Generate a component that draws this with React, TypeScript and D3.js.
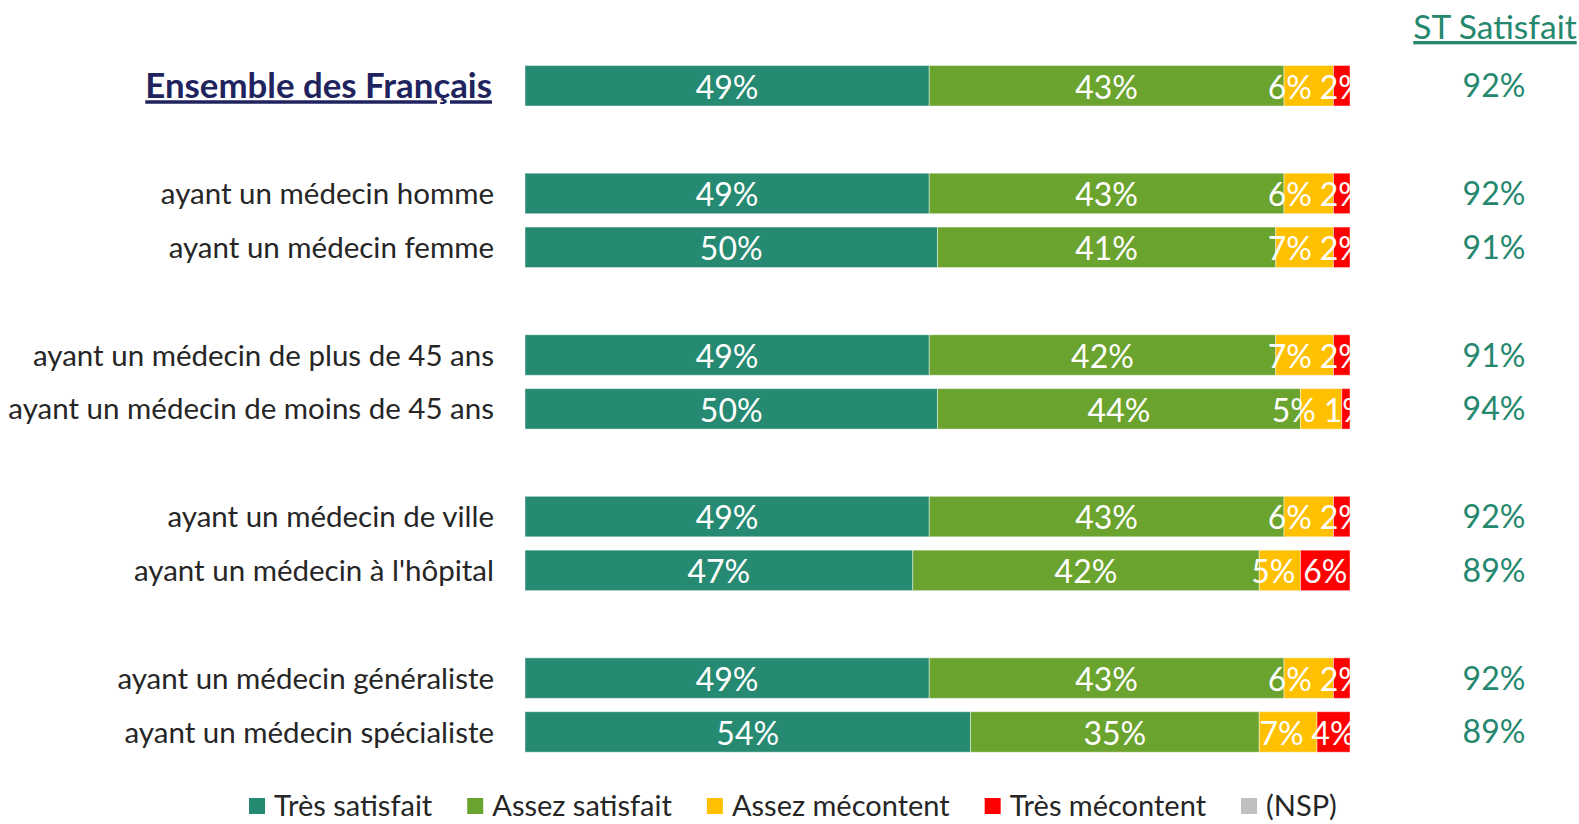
import React, { useEffect, useRef } from "react";
import * as d3 from "d3";

const categories = [
  "Ensemble des Français",
  "ayant un médecin homme",
  "ayant un médecin femme",
  "ayant un médecin de plus de 45 ans",
  "ayant un médecin de moins de 45 ans",
  "ayant un médecin de ville",
  "ayant un médecin à l'hôpital",
  "ayant un médecin généraliste",
  "ayant un médecin spécialiste",
];
const groupOf = [0, 1, 1, 2, 2, 3, 3, 4, 4];
const tresSatisfait = [49, 49, 50, 49, 50, 49, 47, 49, 54];
const assezSatisfait = [43, 43, 41, 42, 44, 43, 42, 43, 35];
const assezMecontent = [6, 6, 7, 7, 5, 6, 5, 6, 7];
const tresMecontent = [2, 2, 2, 2, 1, 2, 6, 2, 4];
const nsp = [0, 0, 0, 0, 0, 0, 0, 0, 0];
const stSatisfait = [92, 92, 91, 91, 94, 92, 89, 92, 89];
const seriesNames = ["Très satisfait", "Assez satisfait", "Assez mécontent", "Très mécontent", "(NSP)"];
const seriesColors = ["#268A72", "#6AA32E", "#FFC000", "#FF0000", "#BFBFBF"];
const stTitle = "ST Satisfait";

const W = 1579;
const H = 824;
const FONT = "Lato, 'Open Sans', sans-serif";

export default function App() {
  const ref = useRef<SVGSVGElement | null>(null);

  useEffect(() => {
    const svg = d3.select(ref.current);
    svg.selectAll("*").remove();

    const series = [tresSatisfait, assezSatisfait, assezMecontent, tresMecontent, nsp];
    const x = d3.scaleLinear().domain([0, 100]).range([525, 1350]);
    const slots = categories.map((_, i) => i + groupOf[i]);
    const y = d3.scaleLinear().domain([0, 12]).range([65.5, 65.5 + 12 * 53.85]);
    const bh = 40.5;

    const defs = svg.append("defs");
    defs
      .append("clipPath")
      .attr("id", "barclip")
      .append("rect")
      .attr("x", x(0))
      .attr("y", 0)
      .attr("width", x(100) - x(0))
      .attr("height", H);

    const rows = categories.map((c, i) => {
      let acc = 0;
      const segs = series.map((s, k) => {
        const v = s[i];
        const seg = { k, v, x0: acc, x1: acc + v };
        acc += v;
        return seg;
      });
      return { c, i, segs };
    });

    const g = svg.append("g");
    rows.forEach((r) => {
      const yy = y(slots[r.i]);
      const rg = g.append("g");
      rg.selectAll("rect")
        .data(r.segs.filter((s) => s.v > 0))
        .join("rect")
        .attr("x", (s) => x(s.x0))
        .attr("y", yy)
        .attr("width", (s) => x(s.x1) - x(s.x0))
        .attr("height", bh)
        .attr("fill", (s) => seriesColors[s.k])
        .attr("stroke", "rgba(255,255,255,0.45)")
        .attr("stroke-width", 1);

      const centers = r.segs.map((s) => (x(s.x0) + x(s.x1)) / 2);
      const redC = centers[3];
      const labelX = r.segs.map((s, k) => {
        if (k === 2) return Math.min(centers[2], redC - 52);
        return centers[k];
      });
      rg.append("g")
        .attr("clip-path", "url(#barclip)")
        .selectAll("text")
        .data(r.segs.filter((s) => s.v > 0))
        .join("text")
        .attr("x", (s) => labelX[s.k])
        .attr("y", yy + bh / 2)
        .attr("dy", "0.4em")
        .attr("text-anchor", "middle")
        .attr("fill", "#ffffff")
        .attr("font-family", FONT)
        .attr("font-size", 32)
        .text((s) => `${s.v}%`);

      const isTotal = r.i === 0;
      svg
        .append("text")
        .attr("x", isTotal ? 492 : 494)
        .attr("y", yy + bh / 2)
        .attr("dy", "0.36em")
        .attr("text-anchor", "end")
        .attr("fill", isTotal ? "#1F235E" : "#262626")
        .attr("font-family", FONT)
        .attr("font-weight", isTotal ? 700 : 400)
        .attr("font-size", isTotal ? 34.8 : 29.5)
        .attr("text-decoration", isTotal ? "underline" : null)
        .text(r.c);

      svg
        .append("text")
        .attr("x", 1494)
        .attr("y", yy + bh / 2)
        .attr("dy", "0.36em")
        .attr("text-anchor", "middle")
        .attr("fill", "#24876E")
        .attr("font-family", FONT)
        .attr("font-size", 32)
        .text(`${stSatisfait[r.i]}%`);
    });

    svg
      .append("text")
      .attr("x", 1495)
      .attr("y", 39)
      .attr("text-anchor", "middle")
      .attr("fill", "#24876E")
      .attr("font-family", FONT)
      .attr("font-size", 33.5)
      .attr("text-decoration", "underline")
      .text(stTitle);

    const lg = svg.append("g");
    let lx = 249;
    const ly = 806;
    seriesNames.forEach((n, k) => {
      lg.append("rect")
        .attr("x", lx)
        .attr("y", ly - 8)
        .attr("width", 16)
        .attr("height", 16)
        .attr("fill", seriesColors[k]);
      const t = lg
        .append("text")
        .attr("x", lx + 25)
        .attr("y", ly)
        .attr("dy", "0.36em")
        .attr("fill", "#262626")
        .attr("font-family", FONT)
        .attr("font-size", 29)
        .text(n);
      const w = (t.node() as SVGTextElement).getComputedTextLength();
      lx = lx + 25 + w + 35;
    });
  }, []);

  return (
    <svg
      ref={ref}
      width={W}
      height={H}
      style={{ position: "absolute", left: 0, top: 0, background: "#ffffff" }}
    />
  );
}
